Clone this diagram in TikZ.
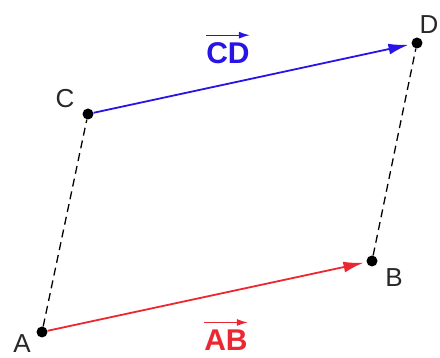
\documentclass[tikz,border=0pt]{standalone}
\usepackage{fontspec}
\setmainfont{Liberation Sans}
\usetikzlibrary{arrows.meta}
\definecolor{vred}{RGB}{235,40,50}
\definecolor{vblue}{RGB}{40,20,230}
\definecolor{lbl}{RGB}{40,40,40}
\begin{document}
\begin{tikzpicture}[x=1pt,y=1pt,
  pt/.style={circle,fill=black,inner sep=0pt,minimum size=11pt},
  lab/.style={text=lbl,inner sep=0pt,font=\fontsize{26}{26}\selectfont},
  vlab/.style={inner sep=0pt,font=\fontsize{30}{30}\selectfont\bfseries},
  vec/.style={line width=1.8pt,-{Latex[length=20pt,width=11pt]},shorten >=3pt},
  dsh/.style={line width=1.3pt,dash pattern=on 8pt off 5pt},
  small/.style={line width=1.3pt,-{Latex[length=11pt,width=7pt]}}]
\useasboundingbox (0,0) rectangle (440,358);
\node[pt] (A) at (42,26) {};
\node[pt] (B) at (372,97) {};
\node[pt] (C) at (88,244) {};
\node[pt] (D) at (417,315) {};
\node[lab] (lA) at (22,14) {A};
\node[lab] (lB) at (394,80) {B};
\node[lab] (lC) at (65,259) {C};
\node[lab] (lD) at (429,333) {D};
\draw[dsh] (A) -- (C);
\draw[dsh] (B) -- (D);
\draw[vec,vred] (A) -- (B);
\draw[vec,vblue] (C) -- (D);
\node[vlab,text=vblue] (cd) at (228,305) {CD};
\node[vlab,text=vred] (ab) at (226,18) {AB};
\coordinate (cd1) at ([yshift=7pt]cd.north west);
\coordinate (cd2) at ([yshift=7pt]cd.north east);
\coordinate (ab1) at ([yshift=7pt]ab.north west);
\coordinate (ab2) at ([yshift=7pt]ab.north east);
\draw[small,vblue] (cd1) -- (cd2);
\draw[small,vred] (ab1) -- (ab2);
\end{tikzpicture}
\end{document}
